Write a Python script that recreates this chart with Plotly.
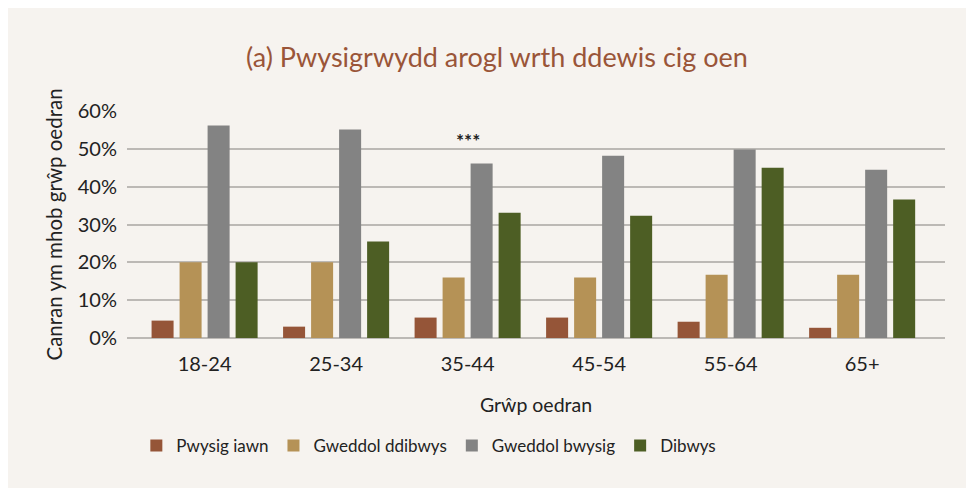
import plotly.graph_objects as go

groups = ["18-24", "25-34", "35-44", "45-54", "55-64", "65+"]
series_names = ["Pwysig iawn", "Gweddol ddibwys", "Gweddol bwysig", "Dibwys"]
pwysig_iawn = [4.6, 3.0, 5.4, 5.4, 4.3, 2.7]
gweddol_ddibwys = [20.0, 20.0, 16.0, 16.0, 16.7, 16.7]
gweddol_bwysig = [56.2, 55.1, 46.1, 48.2, 49.8, 44.5]
dibwys = [20.0, 25.5, 33.1, 32.3, 45.0, 36.6]
y_ticks = [0, 10, 20, 30, 40, 50, 60]

_COLORS = ["#955538", "#b59256", "#838383", "#4d5e24"]
_FONT = dict(family="Lato", size=18, color="#222222")
_BG = "#f6f3ef"

fig = go.Figure()
for name, vals, col in zip(series_names,
                           [pwysig_iawn, gweddol_ddibwys, gweddol_bwysig, dibwys],
                           _COLORS):
    fig.add_trace(go.Bar(x=groups, y=vals, name=name, marker_color=col,
                         marker_line_width=0))

fig.add_annotation(x="35-44", y=52.3, text="<b>***</b>", showarrow=False,
                   font=dict(size=19, color="#222222"))

fig.update_layout(
    width=974, height=488,
    margin=dict(l=119, r=37, t=103, b=158, autoexpand=False),
    paper_bgcolor=_BG, plot_bgcolor=_BG,
    font=_FONT,
    title=dict(text="(a) Pwysigrwydd arogl wrth ddewis cig oen",
               x=0.502, xref="container", xanchor="center",
               y=1 - 50 / 488, yref="container", yanchor="middle",
               font=dict(size=27, color="#9a5538")),
    barmode="group", bargap=0.148, bargroupgap=0.214,
    xaxis=dict(range=[-0.59, 5.63], showgrid=False, ticks="",
               automargin=False, ticklabelstandoff=12,
               title=dict(text="Grŵp oedran", standoff=24,
                          font=dict(size=19.5, color="#222222")),
               tickfont=dict(size=20)),
    yaxis=dict(range=[0, 60], tickvals=y_ticks,
               ticktext=[f"{v}%" for v in y_ticks],
               gridcolor="#bcb9b5", gridwidth=1.5,
               zeroline=True, zerolinecolor="#bcb9b5", zerolinewidth=1.5,
               ticks="", ticklabelstandoff=9, automargin=False,
               tickfont=dict(size=20),
               title=dict(text="Canran ym mhob grŵp oedran", standoff=9,
                          font=dict(size=20.5, color="#222222"))),
    legend=dict(orientation="h", x=0.369, xanchor="center",
                y=-0.475, yanchor="middle", font=dict(size=17),
                itemwidth=30, tracegroupgap=0),
    showlegend=True,
)

fig.write_html("out.html")
